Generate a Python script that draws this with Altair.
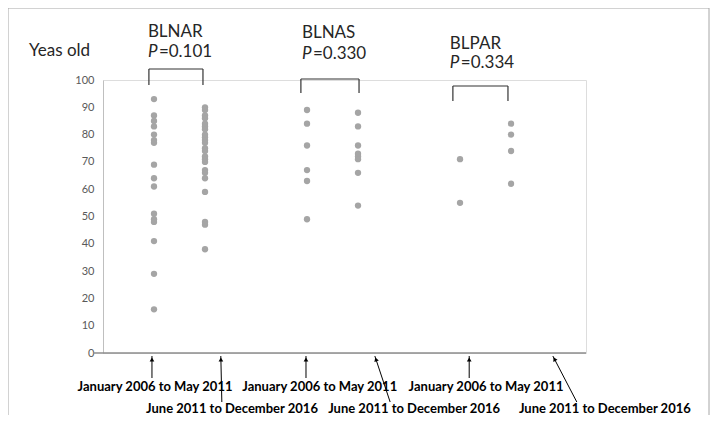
import altair as alt
import pandas as pd
import math

# ---- data ----
groups = ["BLNAR", "BLNAS", "BLPAR"]
p_values = ["0.101", "0.330", "0.334"]
periods = ["January 2006 to May 2011", "June 2011 to December 2016"]

blnar_early = [93, 87, 85, 83, 80, 78, 77, 69, 64, 61, 51, 49, 48, 41, 29, 16]
blnar_late = [90, 89, 87, 86, 84, 83, 82, 80, 79, 78, 77, 75, 74, 72, 71, 70, 67, 66, 64, 59, 48, 47, 38]
blnas_early = [89, 84, 76, 67, 63, 49]
blnas_late = [88, 83, 76, 73, 72, 71, 66, 54]
blpar_early = [71, 55]
blpar_late = [84, 80, 74, 62]

series = [[blnar_early, blnar_late], [blnas_early, blnas_late], [blpar_early, blpar_late]]

# ---- layout ----
W, H = 483, 273
XDOM = [0, 9.47]
col_pos = lambda g, p: g * 3 + p + 1
title_x = [0.88, 3.90, 6.80]
title_base = [-43, -42, -31]      # pixel offsets from top of plot
pval_base = [-23, -21, -12]
bracket_l = [0.90, 3.88, 6.86]
bracket_r = [1.96, 5.02, 7.94]
bracket_top = [-11, -1, 6]        # pixel offsets from top of plot
bracket_bot = [5, 13, 21]
jan_label_x = [1.02, 4.25, 7.51]
jun_label_x = [2.53, 6.10, 9.84]
jan_arrow_x = [0.96, 3.98, 7.18]
jun_arrow_top = [2.31, 5.33, 8.82]
jun_arrow_bot = [2.33, 5.63, 9.29]

rows = []
for g, name in enumerate(groups):
    for p, per in enumerate(periods):
        for v in series[g][p]:
            rows.append({"group": name, "period": per, "xpos": col_pos(g, p), "age": v})
pts = pd.DataFrame(rows)

FONT = "Lato"
xs = alt.Scale(domain=XDOM, nice=False, zero=False)
ys = alt.Scale(domain=[0, 100], nice=False)

points = alt.Chart(pts).mark_circle(size=40, color="#a5a5a5", opacity=1).encode(
    x=alt.X("xpos:Q", scale=xs, axis=None),
    y=alt.Y("age:Q", scale=ys, axis=alt.Axis(values=list(range(0, 101, 10)), ticks=False, grid=False,
                                             labelOverlap=False, labelPadding=9, labelColor="#595959",
                                             labelFontSize=11, labelFont=FONT, domainColor="#bfbfbf",
                                             title=None)),
)

xaxis = alt.Chart(pd.DataFrame({"a": [0]})).mark_rule(color="#8c8c8c", strokeWidth=1.5).encode(
    x=alt.value(-10), x2=alt.value(W), y=alt.value(H))

frame = alt.Chart(pd.DataFrame({"a": [0]})).mark_rect(fill="transparent", stroke="#a6a6a6", strokeWidth=1).encode(
    x=alt.value(-95), x2=alt.value(606), y=alt.value(-72), y2=alt.value(345))

yeas = alt.Chart(pd.DataFrame({"t": ["Yeas old"]})).mark_text(
    font=FONT, fontSize=17, color="#262626", align="left", baseline="alphabetic").encode(
    x=alt.value(-74), y=alt.value(-24), text="t:N")

tdf = pd.DataFrame({"name": groups, "p": ["=" + v for v in p_values], "x": title_x,
                    "tb": title_base, "pb": pval_base})
gname = alt.Chart(tdf).mark_text(font=FONT, fontSize=17, color="#262626", align="left",
                                 baseline="alphabetic").encode(
    x=alt.X("x:Q", scale=xs), y=alt.Y("tb:Q", scale=None), text="name:N")
pital = alt.Chart(tdf).mark_text(font=FONT, fontSize=17, color="#262626", align="left",
                                 baseline="alphabetic", fontStyle="italic", text="P").encode(
    x=alt.X("x:Q", scale=xs), y=alt.Y("pb:Q", scale=None))
pval = alt.Chart(tdf).mark_text(font=FONT, fontSize=17, color="#262626", align="left",
                                baseline="alphabetic", dx=11).encode(
    x=alt.X("x:Q", scale=xs), y=alt.Y("pb:Q", scale=None), text="p:N")

segs = []
for g in range(3):
    segs.append({"x": bracket_l[g], "x2": bracket_r[g], "y": bracket_top[g], "y2": bracket_top[g]})
    segs.append({"x": bracket_l[g], "x2": bracket_l[g], "y": bracket_top[g], "y2": bracket_bot[g]})
    segs.append({"x": bracket_r[g], "x2": bracket_r[g], "y": bracket_top[g], "y2": bracket_bot[g]})
brackets = alt.Chart(pd.DataFrame(segs)).mark_rule(color="#333333", strokeWidth=1.2).encode(
    x=alt.X("x:Q", scale=xs), x2="x2:Q", y=alt.Y("y:Q", scale=None), y2="y2:Q")

# arrows
arr = []
for i in range(3):
    arr.append({"x": jan_arrow_x[i], "x2": jan_arrow_x[i], "y": 276, "y2": 298})
    arr.append({"x": jun_arrow_top[i], "x2": jun_arrow_bot[i], "y": 276, "y2": 322})
adf = pd.DataFrame(arr)
heads = []
for r in arr:
    dxp = (r["x2"] - r["x"]) * (W / XDOM[1])
    dyp = r["y2"] - r["y"]
    L = math.hypot(dxp, dyp)
    f = 3.5 / L
    ang = math.degrees(math.atan2(dxp, dyp))
    heads.append({"x": r["x"] + (r["x2"] - r["x"]) * f, "y": r["y"] + dyp * f,
                  "ang": (360 - ang) % 360})
hdf = pd.DataFrame(heads)
arrows = alt.Chart(adf).mark_rule(color="#000000", strokeWidth=1).encode(
    x=alt.X("x:Q", scale=xs), x2="x2:Q", y=alt.Y("y:Q", scale=None), y2="y2:Q")
arrowheads = alt.Chart(hdf).mark_point(shape="triangle-up", filled=True, color="#000000",
                                       size=22, opacity=1).encode(
    x=alt.X("x:Q", scale=xs), y=alt.Y("y:Q", scale=None), angle=alt.Angle("ang:Q", scale=None))

ldf = pd.DataFrame({"t": [periods[0]] * 3 + [periods[1]] * 3, "x": jan_label_x + jun_label_x,
                    "y": [307] * 3 + [329] * 3})
labels = alt.Chart(ldf).mark_text(font=FONT, fontSize=13, fontWeight="bold", color="#000000",
                                  align="center", baseline="middle").encode(
    x=alt.X("x:Q", scale=xs), y=alt.Y("y:Q", scale=None), text="t:N")

chart = alt.layer(frame, xaxis, points, brackets, yeas, gname, pital, pval, arrows, arrowheads, labels).properties(
    width=W, height=H,
    padding={"left": 95, "top": 72, "right": 124, "bottom": 62},
    autosize=alt.AutoSizeParams(type="none"),
).configure_view(stroke="transparent").configure(background="white")

chart.save("out.html", embed_options={"renderer": "svg", "actions": False})
